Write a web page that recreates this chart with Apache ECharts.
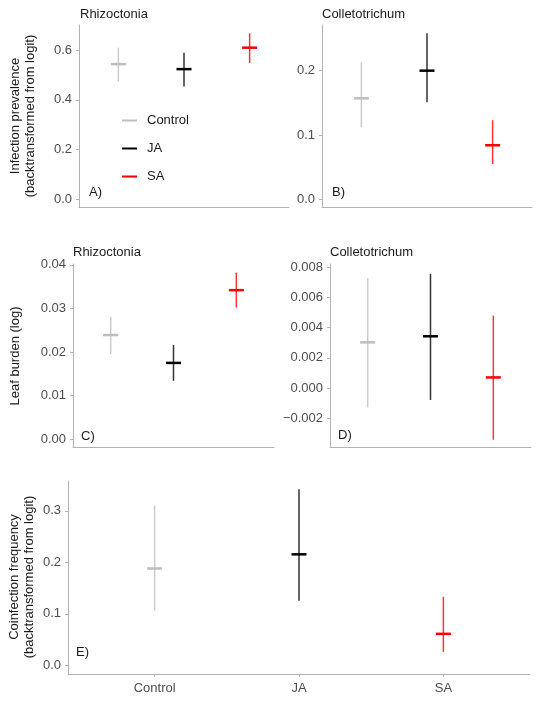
<!DOCTYPE html>
<html>
<head>
<meta charset="utf-8">
<script src="https://cdn.jsdelivr.net/npm/echarts@6/dist/echarts.min.js"></script>
<style>
  html, body { margin: 0; padding: 0; background: #fff; }
  #chart { width: 540px; height: 726px; }
</style>
</head>
<body>
<div id="chart"></div>
<script>
// 数据
var categories = ['Control', 'JA', 'SA'];

// A) Rhizoctonia infection prevalence
var rhizoPrevMean = [0.543, 0.523, 0.609];
var rhizoPrevLow = [0.473, 0.453, 0.547];
var rhizoPrevHigh = [0.609, 0.589, 0.667];
// B) Colletotrichum infection prevalence
var collePrevMean = [0.157, 0.200, 0.084];
var collePrevLow = [0.112, 0.151, 0.055];
var collePrevHigh = [0.213, 0.258, 0.123];
// C) Rhizoctonia leaf burden
var rhizoBurdenMean = [0.0239, 0.0175, 0.0342];
var rhizoBurdenLow = [0.0195, 0.0134, 0.0302];
var rhizoBurdenHigh = [0.0280, 0.0216, 0.0382];
// D) Colletotrichum leaf burden
var colleBurdenMean = [0.00302, 0.00342, 0.0007];
var colleBurdenLow = [-0.00128, -0.00079, -0.00342];
var colleBurdenHigh = [0.00726, 0.00755, 0.00479];
// E) coinfection frequency
var coinfMean = [0.188, 0.2155, 0.061];
var coinfLow = [0.106, 0.1255, 0.026];
var coinfHigh = [0.310, 0.342, 0.133];

// 刻度
var ticksA = [0, 0.2, 0.4, 0.6];
var ticksB = [0, 0.1, 0.2];
var ticksC = [0, 0.01, 0.02, 0.03, 0.04];
var ticksD = [-0.002, 0, 0.002, 0.004, 0.006, 0.008];
var ticksE = [0, 0.1, 0.2, 0.3];

var groupColors = ['#bebebe', '#000000', '#ff0000'];
var font = '"Liberation Sans", Arial, sans-serif';
var axisColor = '#b3b3b3';
var labelColor = '#4d4d4d';
var textColor = '#1a1a1a';

var panels = [
    { grid: { left: 79, top: 25, width: 210, height: 182 }, min: -0.03, max: 0.70, ticks: ticksA, digits: 1,
      mean: rhizoPrevMean, low: rhizoPrevLow, high: rhizoPrevHigh },
    { grid: { left: 322, top: 25, width: 210, height: 182 }, min: -0.012, max: 0.271, ticks: ticksB, digits: 1,
      mean: collePrevMean, low: collePrevLow, high: collePrevHigh },
    { grid: { left: 73, top: 264, width: 201, height: 183 }, min: -0.0018, max: 0.0402, ticks: ticksC, digits: 2,
      mean: rhizoBurdenMean, low: rhizoBurdenLow, high: rhizoBurdenHigh },
    { grid: { left: 330, top: 264, width: 201, height: 183 }, min: -0.0039, max: 0.0082, ticks: ticksD, digits: 3,
      mean: colleBurdenMean, low: colleBurdenLow, high: colleBurdenHigh },
    { grid: { left: 68, top: 481, width: 462, height: 193 }, min: -0.017, max: 0.358, ticks: ticksE, digits: 1,
      mean: coinfMean, low: coinfLow, high: coinfHigh }
];

// 误差线: 竖线 + 均值横线
function renderItem(params, api) {
    var x = api.value(0);
    var pM = api.coord([x, api.value(1)]);
    var pLo = api.coord([x, api.value(2)]);
    var pHi = api.coord([x, api.value(3)]);
    var color = api.visual('color');
    return {
        type: 'group',
        children: [
            { type: 'line', shape: { x1: pLo[0], y1: pLo[1], x2: pHi[0], y2: pHi[1] },
              style: { stroke: color, lineWidth: 1.5, opacity: 0.8 } },
            { type: 'line', shape: { x1: pM[0] - 7.5, y1: pM[1], x2: pM[0] + 7.5, y2: pM[1] },
              style: { stroke: color, lineWidth: 2.5 } }
        ]
    };
}

var grids = [], xAxes = [], yAxes = [], series = [];
panels.forEach(function (p, i) {
    grids.push(p.grid);
    var last = (i === panels.length - 1);
    xAxes.push({
        type: 'value', gridIndex: i, min: 0.4, max: 3.6,
        splitLine: { show: false },
        axisLine: { onZero: false, lineStyle: { color: axisColor, width: 1 } },
        axisTick: { show: last, customValues: [1, 2, 3], length: 3, lineStyle: { color: axisColor } },
        axisLabel: {
            show: last, customValues: [1, 2, 3], margin: 8,
            color: labelColor, fontSize: 13, fontFamily: font,
            formatter: function (v) { return categories[Math.round(v) - 1]; }
        }
    });
    yAxes.push({
        type: 'value', gridIndex: i, min: p.min, max: p.max,
        splitLine: { show: false },
        axisLine: { show: true, onZero: false, lineStyle: { color: axisColor, width: 1 } },
        axisTick: { show: true, customValues: p.ticks, length: 3, lineStyle: { color: axisColor } },
        axisLabel: {
            customValues: p.ticks, margin: 7,
            color: labelColor, fontSize: 13, fontFamily: font,
            formatter: function (v) { return v.toFixed(p.digits).replace('-', '\u2212'); }
        }
    });
    categories.forEach(function (c, g) {
        series.push({
            type: 'custom', name: c,
            xAxisIndex: i, yAxisIndex: i,
            itemStyle: { color: groupColors[g] },
            renderItem: renderItem,
            encode: { x: 0, y: [1, 2, 3] },
            data: [[g + 1, p.mean[g], p.low[g], p.high[g]]]
        });
    });
});

function label(text, x, y) {
    return { type: 'text', x: x, y: y,
        style: { text: text, fill: textColor, font: '13px ' + font, textVerticalAlign: 'middle', verticalAlign: 'middle' } };
}
function yTitle(text, x, y) {
    return { type: 'text', x: x, y: y, rotation: Math.PI / 2,
        style: { text: text, fill: textColor, font: '13px ' + font, lineHeight: 15,
                 textAlign: 'center', align: 'center', textVerticalAlign: 'middle', verticalAlign: 'middle' } };
}

var chart = echarts.init(document.getElementById('chart'));
chart.setOption({
    animation: false,
    grid: grids,
    xAxis: xAxes,
    yAxis: yAxes,
    legend: {
        data: categories, orient: 'vertical', left: 117, top: 109,
        icon: 'rect', itemWidth: 15, itemHeight: 2, itemGap: 15,
        selectedMode: false,
        textStyle: { fontSize: 13, color: textColor, fontFamily: font, padding: [0, 0, 0, 5] }
    },
    graphic: [
        label('Rhizoctonia', 80, 14),
        label('Colletotrichum', 322, 14),
        label('Rhizoctonia', 73, 252),
        label('Colletotrichum', 330, 252),
        label('A)', 89, 192),
        label('B)', 332, 192),
        label('C)', 81, 436),
        label('D)', 338, 435),
        label('E)', 76, 652),
        yTitle('Infection prevalence\n(backtransformed from logit)', 22.5, 116),
        yTitle('Leaf burden (log)', 15, 356),
        yTitle('Coinfection frequency\n(backtransformed from logit)', 21.5, 577)
    ],
    series: series
});
</script>
</body>
</html>
